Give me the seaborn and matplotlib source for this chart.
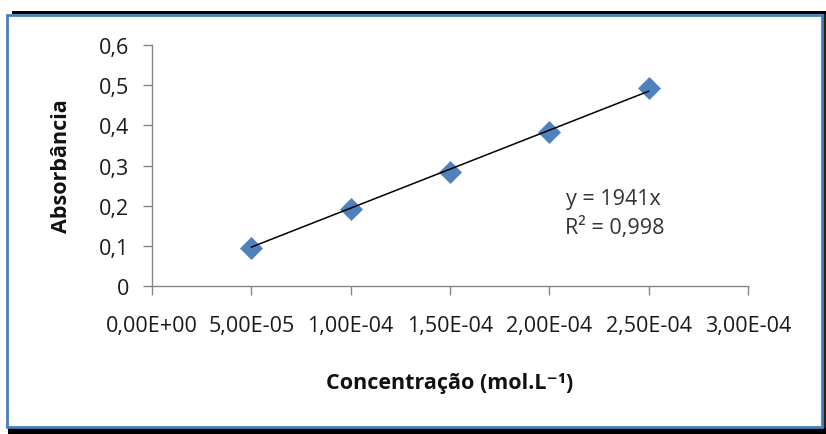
import matplotlib
matplotlib.use("Agg")
import matplotlib.pyplot as plt
from matplotlib.patches import Rectangle
import seaborn as sns
import pandas as pd

# dados da curva de calibração
concentracao = [5.0e-5, 1.0e-4, 1.5e-4, 2.0e-4, 2.5e-4]
absorbancia = [0.094, 0.191, 0.283, 0.384, 0.493]
inclinacao = 1941
r2_texto = "0,998"
x_ticks = [0, 5e-5, 1e-4, 1.5e-4, 2e-4, 2.5e-4, 3e-4]
x_tick_labels = ["0,00E+00", "5,00E-05", "1,00E-04", "1,50E-04", "2,00E-04", "2,50E-04", "3,00E-04"]
y_ticks = [0, 0.1, 0.2, 0.3, 0.4, 0.5, 0.6]
y_tick_labels = ["0", "0,1", "0,2", "0,3", "0,4", "0,5", "0,6"]

df = pd.DataFrame({"conc": concentracao, "abs": absorbancia})
# linha de tendência (passa pela origem)
trend = pd.DataFrame({"conc": [concentracao[0], concentracao[-1]]})
trend["abs"] = inclinacao * trend["conc"]

sns.set_style("white")
plt.rcParams['font.family'] = ['Open Sans', 'DejaVu Sans']
FS = 15.5

fig = plt.figure(figsize=(8.26, 4.35), dpi=100)
ax = fig.add_axes([0.184, 0.340, 0.7216, 0.554])

sns.lineplot(data=trend, x="conc", y="abs", color="black", linewidth=1.1, ax=ax)
sns.scatterplot(data=df, x="conc", y="abs", marker="D", s=125, color="#4F81BD",
                edgecolor="#4F81BD", linewidth=0.5, ax=ax, zorder=3)
# a linha por cima dos marcadores, como no original
ax.lines[0].set_zorder(4)

ax.set_xlim(0, 3e-4)
ax.set_ylim(0, 0.6)
ax.set_xticks(x_ticks)
ax.set_xticklabels(x_tick_labels, fontsize=FS, color="#1a1a1a")
ax.set_yticks(y_ticks)
ax.set_yticklabels(y_tick_labels, fontsize=FS, color="#1a1a1a")
ax.tick_params(axis="both", direction="out", length=6.5, width=1, color="#868686",
               bottom=True, left=True)
ax.tick_params(axis="y", pad=10)
ax.tick_params(axis="x", pad=14)

for s in ["top", "right"]:
    ax.spines[s].set_visible(False)
for s in ["left", "bottom"]:
    ax.spines[s].set_color("#868686")
    ax.spines[s].set_linewidth(1)

ax.set_xlabel("Concentração (mol.L⁻¹)", fontsize=FS, fontweight="bold", color="#111111")
ax.set_ylabel("Absorbância", fontsize=FS, fontweight="bold", color="#111111")
ax.xaxis.label.set_va("center")
ax.yaxis.label.set_va("center")
ax.xaxis.set_label_coords(0.5, -0.398)
ax.yaxis.set_label_coords(-0.151, 0.5)

ax.text(2.085e-4, 0.219, f"y = {inclinacao}x", fontsize=FS, color="#333333", va="center")
ax.text(2.08e-4, 0.147, f"R² = {r2_texto}", fontsize=FS, color="#333333", va="center")

# moldura do gráfico
W, H = 826, 435
fig.add_artist(Rectangle((12 / W, 1 - 15 / H), 814 / W, 3 / H, transform=fig.transFigure,
                         facecolor="black", edgecolor="none"))
fig.add_artist(Rectangle((8 / W, 0), 818 / W, 6 / H, transform=fig.transFigure,
                         facecolor="black", edgecolor="none"))
fig.add_artist(Rectangle((823 / W, 6 / H), 3 / W, 414 / H, transform=fig.transFigure,
                         facecolor="#222222", edgecolor="none"))
fig.add_artist(Rectangle((7 / W, 7 / H), 815 / W, 412 / H, transform=fig.transFigure,
                         facecolor="none", edgecolor="#4A7EBB", linewidth=2))

fig.savefig("out.png", dpi=100)
